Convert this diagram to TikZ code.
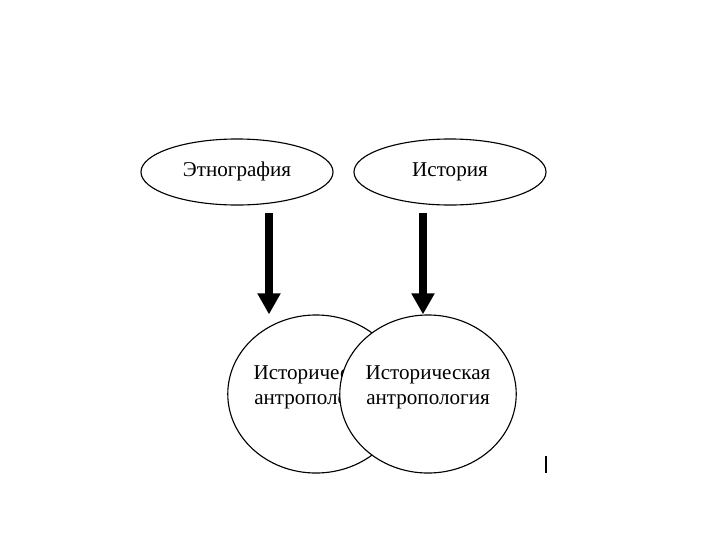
\documentclass[tikz,border=0pt]{standalone}
\usepackage{fontspec}
\setmainfont{Liberation Serif}
\usetikzlibrary{arrows.meta,shapes.geometric}

\begin{document}
\begin{tikzpicture}[x=0.025cm, y=-0.025cm, every node/.style={font=\fontsize{15}{17.5}\selectfont},
	>={Triangle[length=15pt, width=15.6pt]},
	topic/.style={ellipse, draw, line width=0.8pt, inner sep=0pt, text height=11pt, text depth=5pt, minimum width=4.8cm, minimum height=1.65cm},
	field/.style={ellipse, draw, fill=white, line width=0.8pt, inner sep=0pt, align=center, text depth=12.5pt, minimum width=4.3cm, minimum height=3.95cm},
	flow/.style={->, line width=5pt}]
	\useasboundingbox[fill=white] (0,0) rectangle (720,540);
	\node[topic] (ethno) at (237,172) {Этнография};
	\node[topic] (hist) at (450,172) {История};
	\node[field] (lcirc) at (316,394) {Историческая\\антропология};
	\node[field] (rcirc) at (428,394) {Историческая\\антропология};
	\coordinate (s1) at (269,213);
	\coordinate (s2) at (423,213);
	\draw[flow] (s1) -- (s1 |- lcirc.north);
	\draw[flow] (s2) -- (s2 |- rcirc.north);
	\draw[line width=1.4pt] (546,456) -- (546,473);
\end{tikzpicture}
\end{document}
